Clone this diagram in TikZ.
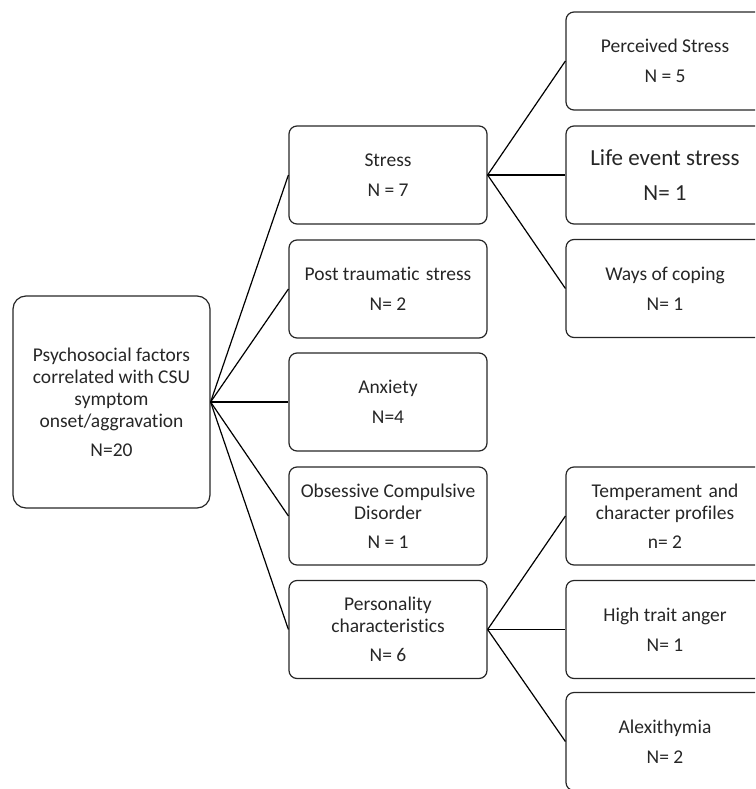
\documentclass[tikz,border=0pt]{standalone}
\usepackage{fontspec}
\setmainfont{Carlito}[Ligatures={NoCommon,NoRare,NoDiscretionary}]
\begin{document}
\begin{tikzpicture}[x=1pt,y=-1pt,
  box/.style={draw=black!85, line width=1.2pt, rounded corners=8pt, minimum width=198pt, minimum height=98pt, align=center, inner sep=2pt, text=black!85, font=\fontsize{19.5}{22}\selectfont},
  bigbox/.style={box, minimum width=197pt, minimum height=212pt, rounded corners=13pt},
  conn/.style={draw=black, line width=1.2pt}]
\clip (0,0) rectangle (755,789);
\node[bigbox] (root) at (111.5,402) {Psychosocial factors\\correlated with CSU\\symptom\\onset/aggravation\\[7pt]N=20};
\node[box] (stress) at (388,175) {Stress\\[8pt]N = 7};
\node[box] (pts) at (388,289) {Post traumatic\hspace{2pt} stress\\[8pt]N= 2};
\node[box] (anx) at (388,402) {Anxiety\\[8pt]N=4};
\node[box] (ocd) at (388,516) {Obsessive Compulsive\\Disorder\\[7pt]N = 1};
\node[box] (pers) at (388,629.5) {Personality\\characteristics\\[7pt]N= 6};
\node[box] (perc) at (665,61) {Perceived Stress\\[8pt]N = 5};
\node[box, font=\fontsize{23}{26}\selectfont] (life) at (665,175) {Life event stress\\[9pt]N= 1};
\node[box] (ways) at (665,288.5) {Ways of coping\\[8pt]N= 1};
\node[box] (temp) at (665,516) {Temperament\hspace{2pt} and\\character profiles\\[7pt]n= 2};
\node[box] (anger) at (665,629.5) {High trait anger\\[8pt]N= 1};
\node[box] (alex) at (665,741.5) {Alexithymia\\[8pt]N= 2};
\foreach \t in {stress,pts,anx,ocd,pers}{\draw[conn] (root.east) -- (\t.west);}
\foreach \t in {perc,life,ways}{\draw[conn] (stress.east) -- (\t.west);}
\foreach \t in {temp,anger,alex}{\draw[conn] (pers.east) -- (\t.west);}
\end{tikzpicture}
\end{document}
